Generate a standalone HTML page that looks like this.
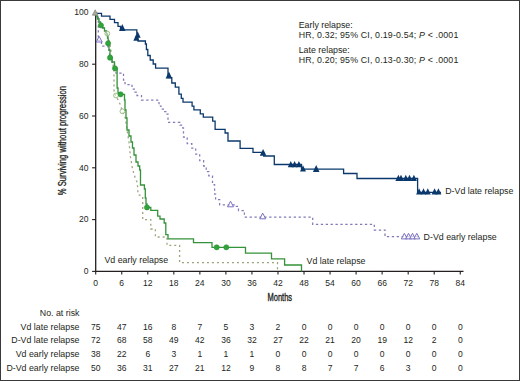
<!DOCTYPE html>
<html><head><meta charset="utf-8"><style>
html,body{margin:0;padding:0;background:#fff;}
body{width:520px;height:381px;overflow:hidden;}
.wrap{position:relative;width:518px;height:379px;border:1px solid #3a3a3a;background:#fff;}
svg{position:absolute;left:-1px;top:-1px;}
svg text{font-family:"Liberation Sans", sans-serif;fill:#231f20;}
</style></head><body><div class="wrap">
<svg width="520" height="381" viewBox="0 0 520 381">
<path d="M95.7,14.5 V271.4 H463.5" fill="none" stroke="#231f20" stroke-width="1.3"/>
<line x1="92.1" y1="271.40" x2="95.7" y2="271.40" stroke="#231f20" stroke-width="1.1"/>
<line x1="92.1" y1="219.60" x2="95.7" y2="219.60" stroke="#231f20" stroke-width="1.1"/>
<line x1="92.1" y1="167.80" x2="95.7" y2="167.80" stroke="#231f20" stroke-width="1.1"/>
<line x1="92.1" y1="116.00" x2="95.7" y2="116.00" stroke="#231f20" stroke-width="1.1"/>
<line x1="92.1" y1="64.20" x2="95.7" y2="64.20" stroke="#231f20" stroke-width="1.1"/>
<line x1="95.70" y1="271.4" x2="95.70" y2="274.6" stroke="#231f20" stroke-width="1.1"/>
<line x1="121.74" y1="271.4" x2="121.74" y2="274.6" stroke="#231f20" stroke-width="1.1"/>
<line x1="147.78" y1="271.4" x2="147.78" y2="274.6" stroke="#231f20" stroke-width="1.1"/>
<line x1="173.82" y1="271.4" x2="173.82" y2="274.6" stroke="#231f20" stroke-width="1.1"/>
<line x1="199.86" y1="271.4" x2="199.86" y2="274.6" stroke="#231f20" stroke-width="1.1"/>
<line x1="225.90" y1="271.4" x2="225.90" y2="274.6" stroke="#231f20" stroke-width="1.1"/>
<line x1="251.94" y1="271.4" x2="251.94" y2="274.6" stroke="#231f20" stroke-width="1.1"/>
<line x1="277.98" y1="271.4" x2="277.98" y2="274.6" stroke="#231f20" stroke-width="1.1"/>
<line x1="304.02" y1="271.4" x2="304.02" y2="274.6" stroke="#231f20" stroke-width="1.1"/>
<line x1="330.06" y1="271.4" x2="330.06" y2="274.6" stroke="#231f20" stroke-width="1.1"/>
<line x1="356.10" y1="271.4" x2="356.10" y2="274.6" stroke="#231f20" stroke-width="1.1"/>
<line x1="382.14" y1="271.4" x2="382.14" y2="274.6" stroke="#231f20" stroke-width="1.1"/>
<line x1="408.18" y1="271.4" x2="408.18" y2="274.6" stroke="#231f20" stroke-width="1.1"/>
<line x1="434.22" y1="271.4" x2="434.22" y2="274.6" stroke="#231f20" stroke-width="1.1"/>
<line x1="460.26" y1="271.4" x2="460.26" y2="274.6" stroke="#231f20" stroke-width="1.1"/>
<path d="M95.7,13.3 L98,17 L100,22 L103,27 L107.3,33.6 L109,40 L110.5,47 L111.5,55 L112.5,62 L114,70 L114,94 L116,95.5 L120,104 L122.4,111.3 L125.3,118 L127,130 L129,142 L130.5,157.4 L131,160 L132.6,169.4 L135,177.3 L137.3,182.8 L138.1,194.6 L142.7,196.2 V219.6 H150.8 V229 H155.4 V237 H167 V245.4 H179.6 V262.7 H277.5 V271.4" fill="none" stroke="#9ca47c" stroke-width="1.3" stroke-dasharray="2 3"/>
<path d="M95.7,13.3 H97 V17 H98.3 V40.3 H101.5 V46 H108 V50 H109.5 V57 H112 V62 H114.5 V68 H116 V73 H123.5 V80 H125 V84.5 H132 V89 H135 V92 H137 V95.5 H141.5 V100 H159 V106 H161 V109 H164 V111.5 H167 V114 H168 V122.3 H180 V125.2 H181.5 V127.9 H183.5 V137 H187.2 V143.6 H191.8 V148.2 H195.7 V154.1 H199.7 V160.7 H203.6 V166 H206.2 V171.6 H208.8 V175.9 H212.5 V184.6 H214.6 V194 H215.6 V199.7 H219.7 V204.8 H236.3 V206.4 H238.5 V210.5 H244.4 V217.1 H312.7 V224.3 H374.3 V230 H385 V236.6 H420" fill="none" stroke="#7f7ab8" stroke-width="1.25" stroke-dasharray="2.3 2.6"/>
<path d="M95.7,13.3 H96.5 V16 H97.5 V19 H99 V22 H100.5 V25.3 H102.5 V28 H104.5 V31 H106.5 V34 H107.5 V38 H108.2 V43.3 H109 V50 H110 V57.7 H112 V62 H114.5 V68.3 H117.1 V88 H118 V93 H120 V94.3 H124.5 V100 H125 V110 H126 V118 H127 V130 H129 V136 H131 V142 H132.5 V148 H134 V155 H136 V162 H138 V166 H139.7 V170 H140.5 V185 H144.4 V189 H145.3 V198 H146 V204 H147 V207.4 H150.8 V210.4 H157.7 V216.2 H160 V219 H164.2 V223 H165.8 V234.6 H168 V238.8 H193.5 V242.7 H212 V247.3 H245.5 V253.1 H271.5 V258.8 H284.6 V265 H301.5 V271.4" fill="none" stroke="#34923a" stroke-width="1.3"/>
<path d="M95.7,13.3 H101.5 V16.1 H110 V19.4 H114.5 V22.7 H118 V26.3 H120.5 V29.9 H136.8 V33.5 H137.5 V37 H138 V41 H145.4 V44 H146.4 V49.5 H147.8 V55.5 H150.2 V60 H153.2 V64 H155.6 V68.2 H168 V77.7 H171.8 V83 H175.3 V87.2 H178.9 V94.2 H181.3 V98.4 H183 V102.2 H192.1 V106.2 H193.9 V109.8 H200.3 V113.9 H203.3 V117.2 H212.7 V121.2 H215.1 V129.4 H225.1 V133 H228 V141 H240.1 V148.4 H253 V152.4 H263.7 V156 H274.3 V164.5 H301.5 V169.1 H343.6 V173.5 H357 V178.5 H417.6 V192.3 H441" fill="none" stroke="#0b386c" stroke-width="1.3"/>
<circle cx="107.3" cy="33.6" r="2.4" fill="#fff" fill-opacity="0.5" stroke="#94b67c" stroke-width="0.9"/>
<circle cx="116" cy="95.5" r="2.4" fill="#fff" fill-opacity="0.5" stroke="#94b67c" stroke-width="0.9"/>
<circle cx="122.4" cy="111.3" r="2.4" fill="#fff" fill-opacity="0.5" stroke="#94b67c" stroke-width="0.9"/>
<circle cx="100.9" cy="25.3" r="2.6" fill="#2fa43a" stroke="#2a8a32" stroke-width="0.5"/>
<circle cx="108.1" cy="43.3" r="2.6" fill="#2fa43a" stroke="#2a8a32" stroke-width="0.5"/>
<circle cx="110" cy="57.7" r="2.6" fill="#2fa43a" stroke="#2a8a32" stroke-width="0.5"/>
<circle cx="115" cy="68.3" r="2.6" fill="#2fa43a" stroke="#2a8a32" stroke-width="0.5"/>
<circle cx="120.6" cy="94.3" r="2.6" fill="#2fa43a" stroke="#2a8a32" stroke-width="0.5"/>
<circle cx="147" cy="207.4" r="2.6" fill="#2fa43a" stroke="#2a8a32" stroke-width="0.5"/>
<circle cx="216.7" cy="247.3" r="2.6" fill="#2fa43a" stroke="#2a8a32" stroke-width="0.5"/>
<circle cx="226.3" cy="247.3" r="2.6" fill="#2fa43a" stroke="#2a8a32" stroke-width="0.5"/>
<polygon points="99.2,36.4 96.2,42.0 102.2,42.0" fill="#fff" fill-opacity="0.6" stroke="#7a70c0" stroke-width="1"/>
<polygon points="230.5,201.2 227.5,206.8 233.5,206.8" fill="#fff" fill-opacity="0.6" stroke="#7a70c0" stroke-width="1"/>
<polygon points="262.7,213.2 259.7,218.8 265.7,218.8" fill="#fff" fill-opacity="0.6" stroke="#7a70c0" stroke-width="1"/>
<polygon points="404.3,233.3 401.3,238.9 407.3,238.9" fill="#fff" fill-opacity="0.6" stroke="#7a70c0" stroke-width="1"/>
<polygon points="408.5,233.3 405.5,238.9 411.5,238.9" fill="#fff" fill-opacity="0.6" stroke="#7a70c0" stroke-width="1"/>
<polygon points="412.5,233.3 409.5,238.9 415.5,238.9" fill="#fff" fill-opacity="0.6" stroke="#7a70c0" stroke-width="1"/>
<polygon points="416.8,233.3 413.8,238.9 419.8,238.9" fill="#fff" fill-opacity="0.6" stroke="#7a70c0" stroke-width="1"/>
<polygon points="122.3,24.0 119.0,30.9 125.6,30.9" fill="#0b386c"/>
<polygon points="137.7,31.5 134.7,37.8 140.7,37.8" fill="#0b386c"/>
<polygon points="136.3,34.5 133.3,40.8 139.3,40.8" fill="#0b386c"/>
<polygon points="168.9,71.5 165.6,78.4 172.2,78.4" fill="#0b386c"/>
<polygon points="263.1,148.9 259.8,155.8 266.4,155.8" fill="#0b386c"/>
<polygon points="290.8,161.0 287.8,167.3 293.8,167.3" fill="#0b386c"/>
<polygon points="294.6,161.0 291.6,167.3 297.6,167.3" fill="#0b386c"/>
<polygon points="298.9,161.0 295.9,167.3 301.9,167.3" fill="#0b386c"/>
<polygon points="303.0,165.3 300.0,171.6 306.0,171.6" fill="#0b386c"/>
<polygon points="316.2,165.0 312.9,171.9 319.5,171.9" fill="#0b386c"/>
<polygon points="398.4,174.7 395.4,181.0 401.4,181.0" fill="#0b386c"/>
<polygon points="401.0,174.7 398.0,181.0 404.0,181.0" fill="#0b386c"/>
<polygon points="405.8,174.7 402.8,181.0 408.8,181.0" fill="#0b386c"/>
<polygon points="409.5,174.7 406.5,181.0 412.5,181.0" fill="#0b386c"/>
<polygon points="413.9,174.7 410.9,181.0 416.9,181.0" fill="#0b386c"/>
<polygon points="419.1,188.2 416.1,194.5 422.1,194.5" fill="#0b386c"/>
<polygon points="423.5,188.2 420.5,194.5 426.5,194.5" fill="#0b386c"/>
<polygon points="427.8,188.2 424.8,194.5 430.8,194.5" fill="#0b386c"/>
<polygon points="434.6,188.2 431.6,194.5 437.6,194.5" fill="#0b386c"/>
<polygon points="438.4,188.2 435.4,194.5 441.4,194.5" fill="#0b386c"/>
<polygon points="95.2,9.8 92.4,15.2 98,15.2" fill="#a9ab9c" stroke="#8a8c80" stroke-width="0.8"/>
<text transform="translate(88.40,274.20) scale(0.93,1)" font-size="9.2" text-anchor="end" >0</text>
<text transform="translate(88.40,222.40) scale(0.93,1)" font-size="9.2" text-anchor="end" >20</text>
<text transform="translate(88.40,170.60) scale(0.93,1)" font-size="9.2" text-anchor="end" >40</text>
<text transform="translate(88.40,118.80) scale(0.93,1)" font-size="9.2" text-anchor="end" >60</text>
<text transform="translate(88.40,67.00) scale(0.93,1)" font-size="9.2" text-anchor="end" >80</text>
<text transform="translate(88.40,15.20) scale(0.93,1)" font-size="9.2" text-anchor="end" >100</text>
<text transform="translate(95.70,286.20) scale(0.93,1)" font-size="9.2" text-anchor="middle" >0</text>
<text transform="translate(121.74,286.20) scale(0.93,1)" font-size="9.2" text-anchor="middle" >6</text>
<text transform="translate(147.78,286.20) scale(0.93,1)" font-size="9.2" text-anchor="middle" >12</text>
<text transform="translate(173.82,286.20) scale(0.93,1)" font-size="9.2" text-anchor="middle" >18</text>
<text transform="translate(199.86,286.20) scale(0.93,1)" font-size="9.2" text-anchor="middle" >24</text>
<text transform="translate(225.90,286.20) scale(0.93,1)" font-size="9.2" text-anchor="middle" >30</text>
<text transform="translate(251.94,286.20) scale(0.93,1)" font-size="9.2" text-anchor="middle" >36</text>
<text transform="translate(277.98,286.20) scale(0.93,1)" font-size="9.2" text-anchor="middle" >42</text>
<text transform="translate(304.02,286.20) scale(0.93,1)" font-size="9.2" text-anchor="middle" >48</text>
<text transform="translate(330.06,286.20) scale(0.93,1)" font-size="9.2" text-anchor="middle" >54</text>
<text transform="translate(356.10,286.20) scale(0.93,1)" font-size="9.2" text-anchor="middle" >60</text>
<text transform="translate(382.14,286.20) scale(0.93,1)" font-size="9.2" text-anchor="middle" >66</text>
<text transform="translate(408.18,286.20) scale(0.93,1)" font-size="9.2" text-anchor="middle" >72</text>
<text transform="translate(434.22,286.20) scale(0.93,1)" font-size="9.2" text-anchor="middle" >78</text>
<text transform="translate(460.26,286.20) scale(0.93,1)" font-size="9.2" text-anchor="middle" >84</text>
<text transform="translate(279.80,301.40) scale(0.75,1)" font-size="10" text-anchor="middle" stroke="#231f20" stroke-width="0.35">Months</text>
<text transform="translate(66.3,140.6) rotate(-90) scale(0.77,1)" font-size="10" text-anchor="middle" stroke="#231f20" stroke-width="0.3">% Surviving without progression</text>
<text transform="translate(298.70,28.00) scale(0.92,1)" font-size="9.6" text-anchor="start" >Early relapse:</text>
<text transform="translate(298.70,38.20) scale(0.92,1)" font-size="9.6" text-anchor="start" textLength="173.5" lengthAdjust="spacing">HR, 0.32; 95% CI, 0.19-0.54; <tspan font-style="italic">P</tspan> &lt; .0001</text>
<text transform="translate(298.70,52.90) scale(0.92,1)" font-size="9.6" text-anchor="start" >Late relapse:</text>
<text transform="translate(298.70,63.20) scale(0.92,1)" font-size="9.6" text-anchor="start" textLength="173.5" lengthAdjust="spacing">HR, 0.20; 95% CI, 0.13-0.30; <tspan font-style="italic">P</tspan> &lt; .0001</text>
<text transform="translate(445.20,194.10) scale(0.92,1)" font-size="9.6" text-anchor="start" >D-Vd late relapse</text>
<text transform="translate(423.60,239.70) scale(0.92,1)" font-size="9.6" text-anchor="start" >D-Vd early relapse</text>
<text transform="translate(104.40,263.10) scale(0.92,1)" font-size="9.6" text-anchor="start" >Vd early relapse</text>
<text transform="translate(306.60,264.00) scale(0.92,1)" font-size="9.6" text-anchor="start" >Vd late relapse</text>
<text transform="translate(79.50,316.10) scale(0.92,1)" font-size="9.6" text-anchor="end" >No. at risk</text>
<text transform="translate(79.50,329.70) scale(0.92,1)" font-size="9.6" text-anchor="end" >Vd late relapse</text>
<text transform="translate(95.70,329.70) scale(0.93,1)" font-size="9.2" text-anchor="middle" >75</text>
<text transform="translate(121.74,329.70) scale(0.93,1)" font-size="9.2" text-anchor="middle" >47</text>
<text transform="translate(147.78,329.70) scale(0.93,1)" font-size="9.2" text-anchor="middle" >16</text>
<text transform="translate(173.82,329.70) scale(0.93,1)" font-size="9.2" text-anchor="middle" >8</text>
<text transform="translate(199.86,329.70) scale(0.93,1)" font-size="9.2" text-anchor="middle" >7</text>
<text transform="translate(225.90,329.70) scale(0.93,1)" font-size="9.2" text-anchor="middle" >5</text>
<text transform="translate(251.94,329.70) scale(0.93,1)" font-size="9.2" text-anchor="middle" >3</text>
<text transform="translate(277.98,329.70) scale(0.93,1)" font-size="9.2" text-anchor="middle" >2</text>
<text transform="translate(304.02,329.70) scale(0.93,1)" font-size="9.2" text-anchor="middle" >0</text>
<text transform="translate(330.06,329.70) scale(0.93,1)" font-size="9.2" text-anchor="middle" >0</text>
<text transform="translate(356.10,329.70) scale(0.93,1)" font-size="9.2" text-anchor="middle" >0</text>
<text transform="translate(382.14,329.70) scale(0.93,1)" font-size="9.2" text-anchor="middle" >0</text>
<text transform="translate(408.18,329.70) scale(0.93,1)" font-size="9.2" text-anchor="middle" >0</text>
<text transform="translate(434.22,329.70) scale(0.93,1)" font-size="9.2" text-anchor="middle" >0</text>
<text transform="translate(460.26,329.70) scale(0.93,1)" font-size="9.2" text-anchor="middle" >0</text>
<text transform="translate(79.50,343.40) scale(0.92,1)" font-size="9.6" text-anchor="end" >D-Vd late relapse</text>
<text transform="translate(95.70,343.40) scale(0.93,1)" font-size="9.2" text-anchor="middle" >72</text>
<text transform="translate(121.74,343.40) scale(0.93,1)" font-size="9.2" text-anchor="middle" >68</text>
<text transform="translate(147.78,343.40) scale(0.93,1)" font-size="9.2" text-anchor="middle" >58</text>
<text transform="translate(173.82,343.40) scale(0.93,1)" font-size="9.2" text-anchor="middle" >49</text>
<text transform="translate(199.86,343.40) scale(0.93,1)" font-size="9.2" text-anchor="middle" >42</text>
<text transform="translate(225.90,343.40) scale(0.93,1)" font-size="9.2" text-anchor="middle" >36</text>
<text transform="translate(251.94,343.40) scale(0.93,1)" font-size="9.2" text-anchor="middle" >32</text>
<text transform="translate(277.98,343.40) scale(0.93,1)" font-size="9.2" text-anchor="middle" >27</text>
<text transform="translate(304.02,343.40) scale(0.93,1)" font-size="9.2" text-anchor="middle" >22</text>
<text transform="translate(330.06,343.40) scale(0.93,1)" font-size="9.2" text-anchor="middle" >21</text>
<text transform="translate(356.10,343.40) scale(0.93,1)" font-size="9.2" text-anchor="middle" >20</text>
<text transform="translate(382.14,343.40) scale(0.93,1)" font-size="9.2" text-anchor="middle" >19</text>
<text transform="translate(408.18,343.40) scale(0.93,1)" font-size="9.2" text-anchor="middle" >12</text>
<text transform="translate(434.22,343.40) scale(0.93,1)" font-size="9.2" text-anchor="middle" >2</text>
<text transform="translate(460.26,343.40) scale(0.93,1)" font-size="9.2" text-anchor="middle" >0</text>
<text transform="translate(79.50,357.10) scale(0.92,1)" font-size="9.6" text-anchor="end" >Vd early relapse</text>
<text transform="translate(95.70,357.10) scale(0.93,1)" font-size="9.2" text-anchor="middle" >38</text>
<text transform="translate(121.74,357.10) scale(0.93,1)" font-size="9.2" text-anchor="middle" >22</text>
<text transform="translate(147.78,357.10) scale(0.93,1)" font-size="9.2" text-anchor="middle" >6</text>
<text transform="translate(173.82,357.10) scale(0.93,1)" font-size="9.2" text-anchor="middle" >3</text>
<text transform="translate(199.86,357.10) scale(0.93,1)" font-size="9.2" text-anchor="middle" >1</text>
<text transform="translate(225.90,357.10) scale(0.93,1)" font-size="9.2" text-anchor="middle" >1</text>
<text transform="translate(251.94,357.10) scale(0.93,1)" font-size="9.2" text-anchor="middle" >1</text>
<text transform="translate(277.98,357.10) scale(0.93,1)" font-size="9.2" text-anchor="middle" >0</text>
<text transform="translate(304.02,357.10) scale(0.93,1)" font-size="9.2" text-anchor="middle" >0</text>
<text transform="translate(330.06,357.10) scale(0.93,1)" font-size="9.2" text-anchor="middle" >0</text>
<text transform="translate(356.10,357.10) scale(0.93,1)" font-size="9.2" text-anchor="middle" >0</text>
<text transform="translate(382.14,357.10) scale(0.93,1)" font-size="9.2" text-anchor="middle" >0</text>
<text transform="translate(408.18,357.10) scale(0.93,1)" font-size="9.2" text-anchor="middle" >0</text>
<text transform="translate(434.22,357.10) scale(0.93,1)" font-size="9.2" text-anchor="middle" >0</text>
<text transform="translate(460.26,357.10) scale(0.93,1)" font-size="9.2" text-anchor="middle" >0</text>
<text transform="translate(79.50,370.80) scale(0.92,1)" font-size="9.6" text-anchor="end" >D-Vd early relapse</text>
<text transform="translate(95.70,370.80) scale(0.93,1)" font-size="9.2" text-anchor="middle" >50</text>
<text transform="translate(121.74,370.80) scale(0.93,1)" font-size="9.2" text-anchor="middle" >36</text>
<text transform="translate(147.78,370.80) scale(0.93,1)" font-size="9.2" text-anchor="middle" >31</text>
<text transform="translate(173.82,370.80) scale(0.93,1)" font-size="9.2" text-anchor="middle" >27</text>
<text transform="translate(199.86,370.80) scale(0.93,1)" font-size="9.2" text-anchor="middle" >21</text>
<text transform="translate(225.90,370.80) scale(0.93,1)" font-size="9.2" text-anchor="middle" >12</text>
<text transform="translate(251.94,370.80) scale(0.93,1)" font-size="9.2" text-anchor="middle" >9</text>
<text transform="translate(277.98,370.80) scale(0.93,1)" font-size="9.2" text-anchor="middle" >8</text>
<text transform="translate(304.02,370.80) scale(0.93,1)" font-size="9.2" text-anchor="middle" >8</text>
<text transform="translate(330.06,370.80) scale(0.93,1)" font-size="9.2" text-anchor="middle" >7</text>
<text transform="translate(356.10,370.80) scale(0.93,1)" font-size="9.2" text-anchor="middle" >7</text>
<text transform="translate(382.14,370.80) scale(0.93,1)" font-size="9.2" text-anchor="middle" >6</text>
<text transform="translate(408.18,370.80) scale(0.93,1)" font-size="9.2" text-anchor="middle" >3</text>
<text transform="translate(434.22,370.80) scale(0.93,1)" font-size="9.2" text-anchor="middle" >0</text>
<text transform="translate(460.26,370.80) scale(0.93,1)" font-size="9.2" text-anchor="middle" >0</text>
</svg></div></body></html>
